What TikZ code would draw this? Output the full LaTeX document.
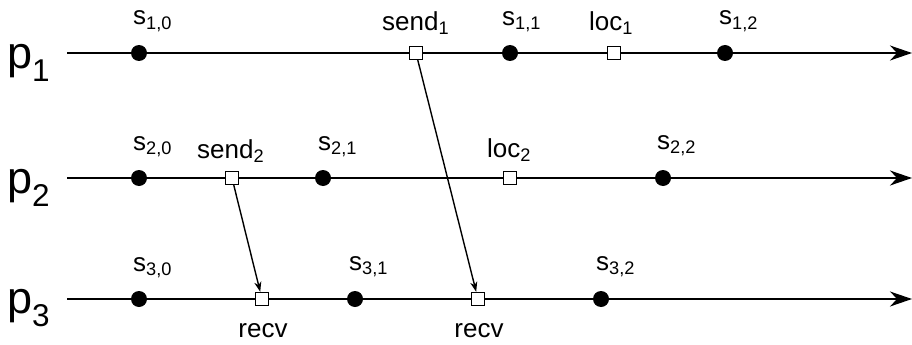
\documentclass[tikz,border=0pt]{standalone}
\usepackage{fontspec}
\setmainfont{Liberation Sans}
\usetikzlibrary{arrows.meta}
\begin{document}
\begin{tikzpicture}[x=1pt,y=-1pt,
  axis/.style={line width=1.5pt,-{Stealth[length=22pt,width=15pt,inset=7pt]}},
  ev/.style={circle,fill=black,inner sep=0pt,minimum size=16pt},
  msgbox/.style={rectangle,draw=black,fill=white,line width=1.3pt,inner sep=0pt,minimum size=13pt},
  lbl/.style={anchor=base west,inner sep=0pt,font=\fontsize{26}{30}\selectfont},
  plbl/.style={anchor=base west,inner sep=0pt,font=\fontsize{45}{50}\selectfont},
  msg/.style={line width=1.4pt,-{Stealth[length=10pt,width=7pt,inset=3pt]}}]
\useasboundingbox (0,0) rectangle (912,345);
% process lines
\coordinate (a1) at (67,53); \coordinate (b1) at (912,53);
\coordinate (a2) at (67,178); \coordinate (b2) at (912,178);
\coordinate (a3) at (67,299); \coordinate (b3) at (912,299);
\draw[axis] (a1) -- (b1);
\draw[axis] (a2) -- (b2);
\draw[axis] (a3) -- (b3);
\node[plbl] (p1) at (7,68) {p\textsubscript{1}};
\node[plbl] (p2) at (7,193) {p\textsubscript{2}};
\node[plbl] (p3) at (7,313) {p\textsubscript{3}};
% p1 events
\node[ev] (s10) at (139,53) {};
\node[msgbox] (send1) at (416,53) {};
\node[ev] (s11) at (510,53) {};
\node[msgbox] (loc1) at (614,53) {};
\node[ev] (s12) at (725,53) {};
% p2 events
\node[ev] (s20) at (139,178) {};
\node[msgbox] (send2) at (232,178) {};
\node[ev] (s21) at (323,178) {};
\node[msgbox] (loc2) at (510,178) {};
\node[ev] (s22) at (663,178) {};
% p3 events
\node[ev] (s30) at (139,299) {};
\node[msgbox] (recv2) at (262,299) {};
\node[ev] (s31) at (355,299) {};
\node[msgbox] (recv1) at (478,299) {};
\node[ev] (s32) at (601,299) {};
% labels
\node[lbl] (l10) at (133,25) {s\textsubscript{1,0}};
\node[lbl] (l1s) at (382,31) {send\textsubscript{1}};
\node[lbl] (l11) at (502,26) {s\textsubscript{1,1}};
\node[lbl] (l1l) at (589,31) {loc\textsubscript{1}};
\node[lbl] (l12) at (719,25) {s\textsubscript{1,2}};
\node[lbl] (l20) at (133,150) {s\textsubscript{2,0}};
\node[lbl] (l2s) at (197,158) {send\textsubscript{2}};
\node[lbl] (l21) at (318,150) {s\textsubscript{2,1}};
\node[lbl] (l2l) at (487,157) {loc\textsubscript{2}};
\node[lbl] (l22) at (657,149) {s\textsubscript{2,2}};
\node[lbl] (l30) at (133,271) {s\textsubscript{3,0}};
\node[lbl] (l31) at (349,270) {s\textsubscript{3,1}};
\node[lbl] (l32) at (596,270) {s\textsubscript{3,2}};
\node[lbl,anchor=base] (lr2) at (263,337) {recv};
\node[lbl,anchor=base] (lr1) at (479,337) {recv};
% messages
\draw[msg] (send1) -- (recv1);
\draw[msg] (send2) -- (recv2);
\end{tikzpicture}
\end{document}
